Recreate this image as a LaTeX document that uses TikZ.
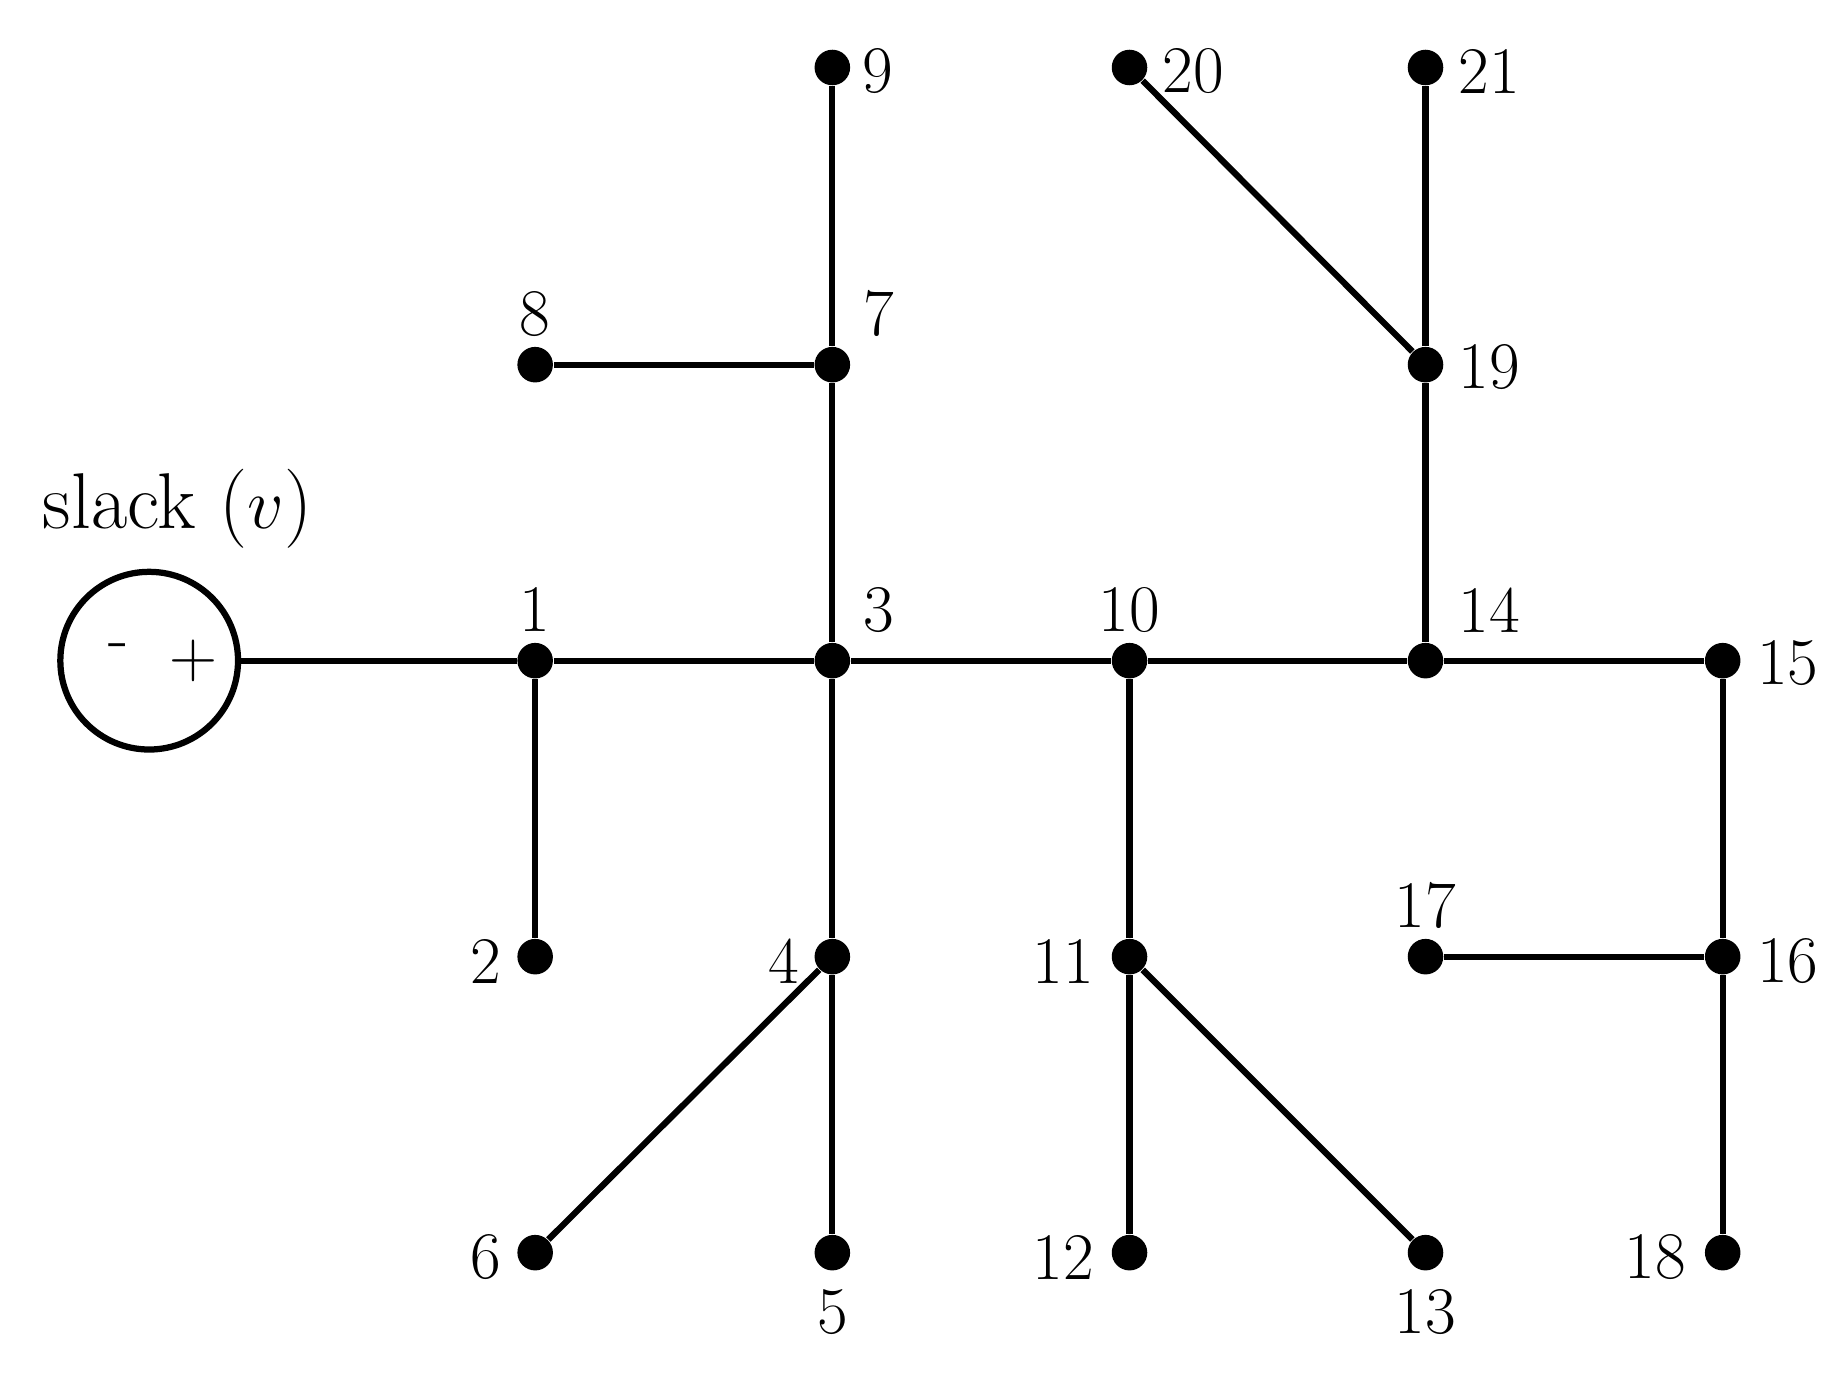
\documentclass[tikz,border=0pt]{standalone}
\begin{document}
\begin{tikzpicture}[x=0.01cm,y=-0.01cm,
  bus/.style={circle,fill=black,inner sep=0pt,minimum size=0.3cm},
  lbl/.style={font=\fontsize{16}{18}\selectfont,inner sep=0pt},
  ln/.style={line width=1.5pt}]
\useasboundingbox (0,0) rectangle (1560,1169);
\node[circle,draw,line width=1.5pt,minimum size=1.5cm,inner sep=0pt] (s) at (126,558) {};
\node[lbl] at (100,550) {-};
\node[lbl] at (163,558) {+};
\node[font=\fontsize{19}{22}\selectfont] (st) at (150,430) {slack ($v$)};
\foreach \n/\x/\y in {1/452/558,2/452/808,3/703/558,4/703/808,5/703/1058,6/452/1058,7/703/308,8/452/308,9/703/57,10/954/558,11/954/808,12/954/1058,13/1204/1058,14/1204/558,15/1455/558,16/1455/808,17/1204/808,18/1455/1058,19/1204/308,20/954/57,21/1204/57}
  \node[bus] (n\n) at (\x,\y) {};
\draw[ln] (s) -- (n1) -- (n3) -- (n10) -- (n14) -- (n15) -- (n16) -- (n18);
\draw[ln] (n1) -- (n2); \draw[ln] (n3) -- (n7) -- (n9); \draw[ln] (n7) -- (n8);
\draw[ln] (n3) -- (n4) -- (n5); \draw[ln] (n4) -- (n6);
\draw[ln] (n10) -- (n11) -- (n12); \draw[ln] (n11) -- (n13);
\draw[ln] (n14) -- (n19) -- (n21); \draw[ln] (n19) -- (n20);
\draw[ln] (n16) -- (n17);
\foreach \t/\x/\y in {9/741/60,20/1008/60,21/1258/60,8/452/265,7/742/265,19/1258/310,1/452/515,3/742/515,10/954/515,14/1258/515,15/1510/560,2/410/812,4/662/812,11/898/812,17/1204/765,16/1510/812,6/410/1062,5/703/1108,12/898/1062,13/1204/1108,18/1398/1062}
  \node[lbl] at (\x,\y) {\t};
\end{tikzpicture}
\end{document}
